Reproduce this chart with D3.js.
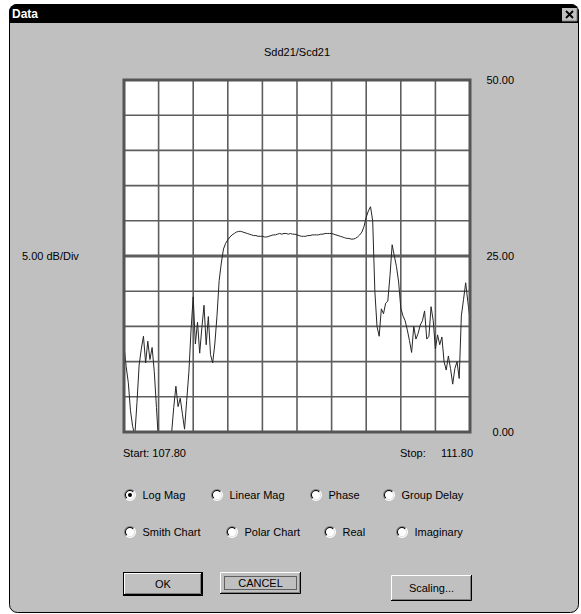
<!DOCTYPE html>
<html>
<head>
<meta charset="utf-8">
<script src="https://cdn.jsdelivr.net/npm/d3@7"></script>
<style>
  body { margin: 0; background: #fff; }
  text { font-family: "Liberation Sans", Arial, sans-serif; font-size: 11px; fill: #000; }
</style>
</head>
<body>
<div id="graphic"></div>
<script>
// sweep + scale settings
const startFreq = 107.80
const stopFreq = 111.80
const dbPerDiv = 5.00
const refLevel = 25.00
const scaleLabels = [50.00, 25.00, 0.00]
const traceName = 'Sdd21/Scd21'

// magnitude in dB, one value per sweep point (161 points start to stop)
const magDb = [
  12.2, 9.3, 7.0, 3.0, 0.8, -0.5, 4.2, 9.5, 11.8, 13.6,
  9.8, 12.9, 10.3, 12.0, 8.6, 3.5, -1.5, -3.0, -4.0, -3.5,
  -2.5, -1.5, -0.2, 3.5, 6.5, 3.6, 4.8, 2.6, 0.4, 4.5,
  8.5, 14.5, 19.2, 12.5, 15.6, 11.2, 14.8, 18.0, 12.4, 16.4,
  11.0, 9.8, 12.5, 16.5, 21.5, 24.0, 26.0, 26.8, 27.3, 27.7,
  28.0, 28.2, 28.4, 28.5, 28.5, 28.4, 28.3, 28.2, 28.1, 28.0,
  27.9, 27.9, 27.8, 27.8, 27.8, 27.7, 27.7, 27.8, 27.9, 28.0,
  28.0, 28.1, 28.2, 28.1, 28.2, 28.2, 28.1, 28.2, 28.1, 28.1,
  28.0, 27.9, 27.8, 27.8, 27.8, 27.9, 27.9, 28.0, 28.0, 28.0,
  28.0, 28.1, 28.1, 28.2, 28.2, 28.2, 28.2, 28.1, 28.0, 27.9,
  27.8, 27.7, 27.6, 27.5, 27.5, 27.4, 27.4, 27.5, 27.7, 28.0,
  28.4, 29.2, 30.5, 31.4, 32.0, 30.0, 20.0, 15.0, 13.6, 17.5,
  16.8, 18.3, 18.6, 22.2, 26.6, 25.0, 23.5, 21.3, 17.6, 16.5,
  15.8, 14.5, 13.0, 11.3, 15.0, 13.2, 14.0, 15.2, 15.8, 17.2,
  13.2, 13.6, 17.8, 15.8, 11.8, 13.8, 12.4, 13.5, 10.0, 8.8,
  10.8, 9.0, 6.8, 9.0, 10.0, 7.6, 16.5, 18.8, 21.2, 18.5,
  16.0
]

// display format radio buttons
const formatsRow1 = ['Log Mag', 'Linear Mag', 'Phase', 'Group Delay']
const formatsRow2 = ['Smith Chart', 'Polar Chart', 'Real', 'Imaginary']
const selectedFormat = 'Log Mag'
const buttonLabels = ['OK', 'CANCEL', 'Scaling...']

;(function () {
  var width = 581
  var height = 614

  var svg = d3.select('#graphic')
    .append('svg')
    .attr('width', width)
    .attr('height', height)

  // the dialog window itself
  svg.append('rect')
    .attr('x', 9.5).attr('y', 4.5)
    .attr('width', 569).attr('height', 608)
    .attr('rx', 8)
    .attr('fill', '#c0c0c0')
    .attr('stroke', '#000')

  svg.append('clipPath').attr('id', 'win-clip')
    .append('rect')
    .attr('x', 9).attr('y', 4).attr('width', 570).attr('height', 609).attr('rx', 8)

  svg.append('rect')
    .attr('clip-path', 'url(#win-clip)')
    .attr('x', 9).attr('y', 4)
    .attr('width', 570).attr('height', 19)
    .attr('fill', '#000')

  svg.append('text')
    .attr('x', 12).attr('y', 18)
    .style('fill', '#fff')
    .style('font-weight', 'bold')
    .style('font-size', '12px')
    .text('Data')

  // close box
  var close = svg.append('g').attr('transform', 'translate(562,8)')
  close.append('rect').attr('width', 15).attr('height', 13).attr('fill', '#c0c0c0')
  close.append('path').attr('d', 'M0,13 H15 V0').attr('fill', 'none').attr('stroke', '#808080')
  close.append('path').attr('d', 'M4,3 L11,10 M11,3 L4,10').attr('stroke', '#000').attr('stroke-width', 1.8)

  // plot area
  var plot = { left: 124, right: 470, top: 80, bottom: 432 }

  var x = d3.scaleLinear()
    .domain([startFreq, stopFreq])
    .range([plot.left, plot.right])

  var nDiv = 10
  var y = d3.scaleLinear()
    .domain([refLevel - dbPerDiv * nDiv / 2, refLevel + dbPerDiv * nDiv / 2])
    .range([plot.bottom, plot.top])

  svg.append('rect')
    .attr('x', plot.left).attr('y', plot.top)
    .attr('width', plot.right - plot.left).attr('height', plot.bottom - plot.top)
    .attr('fill', '#fff')

  var freqDivs = d3.range(1, nDiv).map(k => startFreq + k * (stopFreq - startFreq) / nDiv)
  var dbDivs = d3.range(1, nDiv).map(k => y.domain()[0] + k * dbPerDiv)

  svg.append('g').selectAll('line')
    .data(freqDivs)
    .enter().append('line')
    .attr('x1', d => x(d)).attr('x2', d => x(d))
    .attr('y1', plot.top).attr('y2', plot.bottom)
    .attr('stroke', '#5e5e5e')
    .attr('stroke-width', 1.6)

  svg.append('g').selectAll('line')
    .data(dbDivs)
    .enter().append('line')
    .attr('x1', plot.left).attr('x2', plot.right)
    .attr('y1', d => y(d)).attr('y2', d => y(d))
    .attr('stroke', '#5e5e5e')
    .attr('stroke-width', d => d == refLevel ? 3 : 1.6)

  svg.append('clipPath').attr('id', 'plot-clip')
    .append('rect')
    .attr('x', plot.left).attr('y', plot.top)
    .attr('width', plot.right - plot.left).attr('height', plot.bottom - plot.top)

  var freqs = magDb.map((d, i) => startFreq + i * (stopFreq - startFreq) / (magDb.length - 1))

  var line = d3.line()
    .x((d, i) => x(freqs[i]))
    .y(d => y(d))

  svg.append('path')
    .datum(magDb)
    .attr('clip-path', 'url(#plot-clip)')
    .attr('d', line)
    .attr('fill', 'none')
    .attr('stroke', '#262626')
    .attr('stroke-width', 1)

  svg.append('rect')
    .attr('x', plot.left).attr('y', plot.top)
    .attr('width', plot.right - plot.left).attr('height', plot.bottom - plot.top)
    .attr('fill', 'none')
    .attr('stroke', '#555')
    .attr('stroke-width', 3)

  // labels round the plot
  svg.append('text')
    .attr('x', (plot.left + plot.right) / 2).attr('y', 56)
    .attr('text-anchor', 'middle')
    .text(traceName)

  svg.append('text')
    .attr('x', 22).attr('y', y(refLevel) + 4)
    .text(dbPerDiv.toFixed(2) + ' dB/Div')

  svg.append('g').selectAll('text')
    .data(scaleLabels)
    .enter().append('text')
    .attr('x', 514)
    .attr('y', d => y(d) + 4)
    .attr('text-anchor', 'end')
    .text(d => d.toFixed(2))

  svg.append('text')
    .attr('x', 123).attr('y', 457)
    .text('Start: ' + startFreq.toFixed(2))

  svg.append('text')
    .attr('x', 400).attr('y', 457)
    .text('Stop:')

  svg.append('text')
    .attr('x', 473).attr('y', 457)
    .attr('text-anchor', 'end')
    .text(stopFreq.toFixed(2))

  // radio buttons
  var radioX1 = [130, 217, 316, 389]
  var radioX2 = [130, 232, 330, 402]

  var outerArc = d3.arc().innerRadius(5).outerRadius(6)
  var innerArc = d3.arc().innerRadius(4).outerRadius(5)

  function drawRadio (label, cx, cy) {
    var g = svg.append('g').attr('transform', 'translate(' + cx + ',' + cy + ')')
    g.append('circle').attr('r', 5).attr('fill', '#fff')
    g.append('path').attr('d', outerArc({ startAngle: -Math.PI * 3 / 4, endAngle: Math.PI / 4 })).attr('fill', '#808080')
    g.append('path').attr('d', outerArc({ startAngle: Math.PI / 4, endAngle: Math.PI * 5 / 4 })).attr('fill', '#fff')
    g.append('path').attr('d', innerArc({ startAngle: -Math.PI * 3 / 4, endAngle: Math.PI / 4 })).attr('fill', '#000')
    g.append('path').attr('d', innerArc({ startAngle: Math.PI / 4, endAngle: Math.PI * 5 / 4 })).attr('fill', '#dfdfdf')
    if (label == selectedFormat) {
      g.append('circle').attr('r', 2).attr('fill', '#000')
    }
    svg.append('text')
      .attr('x', cx + 12.5).attr('y', cy + 4)
      .text(label)
  }

  formatsRow1.forEach((d, i) => drawRadio(d, radioX1[i], 495))
  formatsRow2.forEach((d, i) => drawRadio(d, radioX2[i], 532))

  // win95 looking buttons
  var buttons = [
    { x: 123, y: 572, w: 80, h: 24, isDefault: true },
    { x: 220, y: 572, w: 81, h: 22, hasFocus: true },
    { x: 391, y: 575, w: 81, h: 26 }
  ]

  buttons.forEach((b, i) => {
    var g = svg.append('g').attr('transform', 'translate(' + b.x + ',' + b.y + ')')
    g.append('rect').attr('width', b.w).attr('height', b.h).attr('fill', '#c0c0c0')
    var o = b.isDefault ? 1 : 0
    if (b.isDefault) {
      g.append('rect').attr('x', 0.5).attr('y', 0.5).attr('width', b.w - 1).attr('height', b.h - 1)
        .attr('fill', 'none').attr('stroke', '#000')
    }
    g.append('path')
      .attr('d', 'M' + (o + 0.5) + ',' + (b.h - o - 1) + ' V' + (o + 0.5) + ' H' + (b.w - o - 1))
      .attr('fill', 'none').attr('stroke', '#fff')
    g.append('path')
      .attr('d', 'M' + (o) + ',' + (b.h - o - 0.5) + ' H' + (b.w - o - 0.5) + ' V' + o)
      .attr('fill', 'none').attr('stroke', '#000')
    g.append('path')
      .attr('d', 'M' + (o + 1) + ',' + (b.h - o - 1.5) + ' H' + (b.w - o - 1.5) + ' V' + (o + 1))
      .attr('fill', 'none').attr('stroke', '#808080')
    if (b.hasFocus) {
      g.append('rect').attr('x', 4.5).attr('y', 4.5).attr('width', b.w - 9).attr('height', b.h - 9)
        .attr('fill', 'none').attr('stroke', '#000').attr('stroke-dasharray', '1,1')
    }
    g.append('text')
      .attr('x', b.w / 2).attr('y', b.h / 2 + 4)
      .attr('text-anchor', 'middle')
      .text(buttonLabels[i])
  })
})()
</script>
</body>
</html>
